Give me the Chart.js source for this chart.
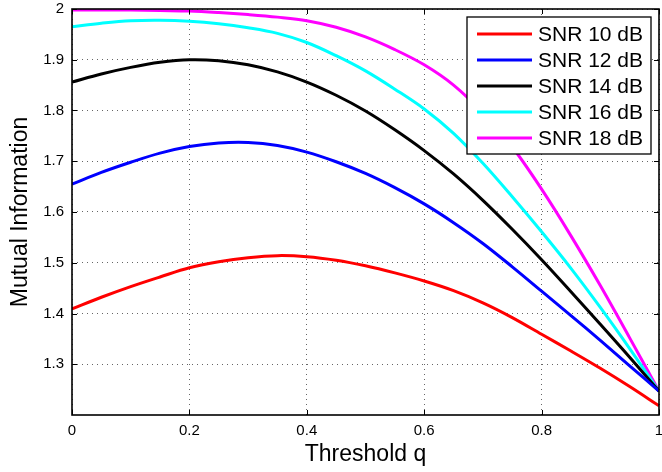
<!DOCTYPE html>
<html>
<head>
<meta charset="utf-8">
<script src="https://cdn.jsdelivr.net/npm/chart.js@4/dist/chart.umd.min.js"></script>
<style>
  html, body { margin: 0; padding: 0; background: #fff; }
  #wrap { width: 662px; height: 472px; }
</style>
</head>
<body>
<div id="wrap"><canvas id="c" width="662" height="472"></canvas></div>
<script>
// ---- data ----
const thresholds = [0, 0.05, 0.1, 0.15, 0.2, 0.25, 0.3, 0.35, 0.4, 0.45, 0.5, 0.55, 0.6, 0.65, 0.7, 0.75, 0.8, 0.85, 0.9, 0.95, 1];
const snr10 = [1.409, 1.432, 1.453, 1.472, 1.490, 1.502, 1.510, 1.514, 1.512, 1.505, 1.494, 1.480, 1.464, 1.445, 1.421, 1.392, 1.359, 1.326, 1.292, 1.256, 1.218];
const snr12 = [1.655, 1.678, 1.698, 1.716, 1.729, 1.736, 1.737, 1.731, 1.718, 1.699, 1.676, 1.648, 1.616, 1.579, 1.538, 1.492, 1.444, 1.396, 1.347, 1.297, 1.247];
const snr14 = [1.856, 1.872, 1.885, 1.895, 1.900, 1.898, 1.890, 1.876, 1.856, 1.830, 1.799, 1.762, 1.721, 1.675, 1.623, 1.566, 1.506, 1.443, 1.379, 1.314, 1.247];
const snr16 = [1.965, 1.972, 1.977, 1.978, 1.976, 1.971, 1.963, 1.952, 1.934, 1.908, 1.878, 1.842, 1.803, 1.755, 1.696, 1.630, 1.561, 1.489, 1.412, 1.331, 1.247];
const snr18 = [1.998, 1.998, 1.998, 1.997, 1.996, 1.993, 1.989, 1.984, 1.977, 1.964, 1.945, 1.920, 1.890, 1.850, 1.795, 1.728, 1.645, 1.553, 1.455, 1.352, 1.247];
const seriesLabels = ['SNR 10 dB', 'SNR 12 dB', 'SNR 14 dB', 'SNR 16 dB', 'SNR 18 dB'];
const seriesColors = ['#ff0000', '#0000ff', '#000000', '#00ffff', '#ff00ff'];
const xTicks = [0, 0.2, 0.4, 0.6, 0.8, 1];
const yTicks = [1.3, 1.4, 1.5, 1.6, 1.7, 1.8, 1.9, 2];
const xTitle = 'Threshold q';
const yTitle = 'Mutual Information';

const seriesValues = [snr10, snr12, snr14, snr16, snr18];
const FONT = '"Liberation Sans", Arial, Helvetica, sans-serif';

const datasets = seriesValues.map((vals, i) => ({
  label: seriesLabels[i],
  data: thresholds.map((q, k) => ({ x: q, y: vals[k] })),
  borderColor: seriesColors[i],
  backgroundColor: seriesColors[i],
  borderWidth: 3,
  pointRadius: 0,
  fill: false,
  tension: 0.35
}));

// box, inward ticks and legend (MATLAB style)
const matlabFrame = {
  id: 'matlabFrame',
  afterDatasetsDraw(chart) {
    const { ctx, chartArea: a, scales } = chart;
    ctx.save();
    ctx.strokeStyle = '#000';
    ctx.lineWidth = 1;
    const tl = 5;
    ctx.beginPath();
    xTicks.forEach(v => {
      const px = Math.round(scales.x.getPixelForValue(v)) + 0.5;
      ctx.moveTo(px, a.bottom); ctx.lineTo(px, a.bottom - tl);
      ctx.moveTo(px, a.top); ctx.lineTo(px, a.top + tl);
    });
    yTicks.forEach(v => {
      const py = Math.round(scales.y.getPixelForValue(v)) + 0.5;
      ctx.moveTo(a.left, py); ctx.lineTo(a.left + tl, py);
      ctx.moveTo(a.right, py); ctx.lineTo(a.right - tl, py);
    });
    ctx.stroke();
    ctx.lineWidth = 1.6;
    ctx.strokeRect(a.left, a.top, a.right - a.left, a.bottom - a.top);

    // legend
    const bw = 184, bh = 137;
    const bx = a.right - 8 - bw, by = a.top + 8;
    ctx.fillStyle = '#fff';
    ctx.fillRect(bx, by, bw, bh);
    ctx.lineWidth = 1.3;
    ctx.strokeStyle = '#000';
    ctx.strokeRect(bx, by, bw, bh);
    ctx.font = '21px ' + FONT;
    ctx.textBaseline = 'middle';
    ctx.textAlign = 'left';
    chart.data.datasets.forEach((ds, i) => {
      const cy = by + 17 + i * 26;
      ctx.strokeStyle = ds.borderColor;
      ctx.lineWidth = 3;
      ctx.beginPath();
      ctx.moveTo(bx + 10, cy); ctx.lineTo(bx + 65, cy);
      ctx.stroke();
      ctx.fillStyle = '#000';
      ctx.fillText(ds.label, bx + 71, cy + 1);
    });
    ctx.restore();
  }
};

new Chart(document.getElementById('c'), {
  type: 'line',
  data: { datasets },
  options: {
    responsive: false,
    animation: false,
    devicePixelRatio: 1,
    layout: { padding: { top: 9, right: 3, left: 0, bottom: 0 } },
    plugins: { legend: { display: false }, tooltip: { enabled: false } },
    scales: {
      x: {
        type: 'linear',
        min: 0, max: 1,
        afterBuildTicks(scale) { scale.ticks = xTicks.map(v => ({ value: v })); },
        ticks: {
          callback: v => String(+v.toFixed(2)),
          font: { family: FONT, size: 15 },
          color: '#000',
          padding: 7,
          maxRotation: 0,
          autoSkip: false
        },
        grid: { color: 'rgba(0,0,0,0.6)', lineWidth: 1, drawTicks: false },
        border: { display: false, dash: [1, 4] },
        title: {
          display: true, text: xTitle, color: '#000',
          font: { family: FONT, size: 23 },
          padding: { top: 0, bottom: 4 }
        },
        afterFit(scale) { scale.height = 57; scale.paddingLeft = 0; scale.paddingRight = 0; }
      },
      y: {
        type: 'linear',
        min: 1.2, max: 2,
        afterBuildTicks(scale) { scale.ticks = yTicks.map(v => ({ value: v })); },
        ticks: {
          callback: v => String(+v.toFixed(2)),
          font: { family: FONT, size: 15 },
          color: '#000',
          padding: 8,
          autoSkip: false
        },
        grid: { color: 'rgba(0,0,0,0.6)', lineWidth: 1, drawTicks: false },
        border: { display: false, dash: [1, 4] },
        title: {
          display: true, text: yTitle, color: '#000',
          font: { family: FONT, size: 23 },
          padding: { top: 7, bottom: 0 }
        },
        afterFit(scale) { scale.width = 72; scale.paddingTop = 0; scale.paddingBottom = 0; }
      }
    }
  },
  plugins: [matlabFrame]
});
</script>
</body>
</html>
